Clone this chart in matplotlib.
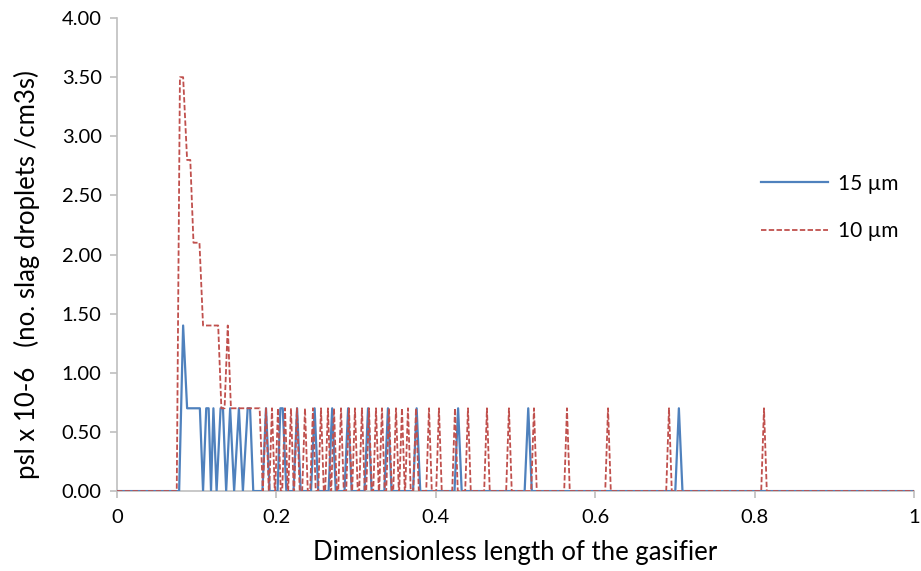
import matplotlib
matplotlib.use("Agg")
import matplotlib.pyplot as plt

plt.rcParams['font.family'] = ['Lato', 'DejaVu Sans']

# 15 um series (breakpoints)
blue_x = [0, 0.078, 0.083, 0.088, 0.104, 0.108, 0.112, 0.115, 0.118, 0.121,
          0.125, 0.130, 0.133, 0.137, 0.142, 0.147, 0.153, 0.158, 0.164, 0.167,
          0.171,
          0.1825, 0.187, 0.1915,
          0.2015, 0.205, 0.208, 0.2125,
          0.2215, 0.226, 0.2305,
          0.2435, 0.248, 0.2525,
          0.2655, 0.270, 0.2745,
          0.2855, 0.290, 0.2945,
          0.3105, 0.315, 0.3195,
          0.3355, 0.340, 0.3445,
          0.3715, 0.376, 0.3805,
          0.4235, 0.428, 0.4325,
          0.5115, 0.516, 0.5205,
          0.7005, 0.705, 0.7095,
          1.0]
blue_y = [0, 0, 1.4, 0.7, 0.7, 0, 0.7, 0.7, 0, 0.7,
          0, 0.7, 0.7, 0, 0.7, 0, 0.7, 0, 0.7, 0.7,
          0,
          0, 0.7, 0,
          0, 0.7, 0.7, 0,
          0, 0.7, 0,
          0, 0.7, 0,
          0, 0.7, 0,
          0, 0.7, 0,
          0, 0.7, 0,
          0, 0.7, 0,
          0, 0.7, 0,
          0, 0.7, 0,
          0, 0.7, 0,
          0, 0.7, 0,
          0]

# 10 um series
red_x = [0, 0.075, 0.079, 0.083, 0.088, 0.092, 0.096, 0.1035, 0.108, 0.127,
         0.131, 0.135, 0.139, 0.143, 0.179, 0.183,
         0.187, 0.1905,
         0.191, 0.1945, 0.198,
         0.1985, 0.202, 0.2055,
         0.2073, 0.2108, 0.2143,
         0.2148, 0.2183, 0.2218,
         0.2223, 0.2258, 0.2293,
         0.2324, 0.2359, 0.2394,
         0.2424, 0.2459, 0.2494,
         0.2525, 0.2560, 0.2595,
         0.2612, 0.2647, 0.2682,
         0.2688, 0.2723, 0.2758,
         0.2776, 0.2811, 0.2846,
         0.2876, 0.2911, 0.2946,
         0.2951, 0.2986, 0.3021,
         0.3039, 0.3074, 0.3109,
         0.3127, 0.3162, 0.3197,
         0.3215, 0.3250, 0.3285,
         0.3290, 0.3325, 0.3360,
         0.3378, 0.3413, 0.3448,
         0.3466, 0.3501, 0.3536,
         0.3541, 0.3576, 0.3611,
         0.3616, 0.3651, 0.3686,
         0.3717, 0.3752, 0.3787,
         0.3880, 0.3915, 0.3950,
         0.4005, 0.4040, 0.4075,
         0.4206, 0.4241, 0.4276,
         0.4369, 0.4404, 0.4439,
         0.4607, 0.4642, 0.4677,
         0.4883, 0.4918, 0.4953,
         0.5197, 0.5232, 0.5267,
         0.5611, 0.5646, 0.5681,
         0.6126, 0.6161, 0.6196,
         0.6891, 0.6926, 0.6961,
         0.8083, 0.8118, 0.8153,
         1.0]
red_y = [0, 0, 3.5, 3.5, 2.8, 2.8, 2.1, 2.1, 1.4, 1.4,
         0.7, 0.7, 1.4, 0.7, 0.7, 0,
         0.7, 0,
         0, 0.7, 0,
         0, 0.7, 0,
         0, 0.7, 0,
         0, 0.7, 0,
         0, 0.7, 0,
         0, 0.7, 0,
         0, 0.7, 0,
         0, 0.7, 0,
         0, 0.7, 0,
         0, 0.7, 0,
         0, 0.7, 0,
         0, 0.7, 0,
         0, 0.7, 0,
         0, 0.7, 0,
         0, 0.7, 0,
         0, 0.7, 0,
         0, 0.7, 0,
         0, 0.7, 0,
         0, 0.7, 0,
         0, 0.7, 0,
         0, 0.7, 0,
         0, 0.7, 0,
         0, 0.7, 0,
         0, 0.7, 0,
         0, 0.7, 0,
         0, 0.7, 0,
         0, 0.7, 0,
         0, 0.7, 0,
         0, 0.7, 0,
         0, 0.7, 0,
         0, 0.7, 0,
         0, 0.7, 0,
         0, 0.7, 0,
         0]

series_labels = ["15 µm", "10 µm"]
x_ticks = [0, 0.2, 0.4, 0.6, 0.8, 1.0]
x_tick_labels = ["0", "0.2", "0.4", "0.6", "0.8", "1"]
y_ticks = [0, 0.5, 1.0, 1.5, 2.0, 2.5, 3.0, 3.5, 4.0]

BLUE = "#4F81BD"
RED = "#C0504D"
AXIS = "#BFBFBF"

fig = plt.figure(figsize=(9.21, 5.71), dpi=100)
ax = fig.add_axes([0.127, 0.140, 0.8654, 0.8284])

ax.plot(blue_x, blue_y, color=BLUE, lw=1.6, label=series_labels[0], zorder=3)
ax.plot(red_x, red_y, color=RED, lw=1.3, ls=(0, (3, 1.3)),
        label=series_labels[1], zorder=4)

ax.set_xlim(0, 1)
ax.set_ylim(0, 4)
ax.set_xticks(x_ticks)
ax.set_xticklabels(x_tick_labels)
ax.set_yticks(y_ticks)
ax.set_yticklabels([f"{v:.2f}" for v in y_ticks])

for s in ["top", "right"]:
    ax.spines[s].set_visible(False)
for s in ["left", "bottom"]:
    ax.spines[s].set_color(AXIS)
    ax.spines[s].set_linewidth(1.2)
ax.tick_params(axis="both", colors=AXIS, labelcolor="black", labelsize=14.5,
               length=5, width=1.2, direction="out")
ax.tick_params(axis="x", pad=8)
ax.tick_params(axis="y", pad=6)

ax.set_xlabel("Dimensionless length of the gasifier", fontsize=18.5)
ax.xaxis.set_label_coords(0.5, -0.103)
ax.set_ylabel("psl x 10-6   (no. slag droplets /cm3s)", fontsize=18.5)
ax.yaxis.set_label_coords(-0.097, 0.457)

leg = ax.legend(loc="center left", bbox_to_anchor=(0.785, 0.60), frameon=False,
                fontsize=15, handlelength=3.2, handletextpad=0.5,
                labelspacing=1.3)

fig.savefig("out.png", dpi=100)
